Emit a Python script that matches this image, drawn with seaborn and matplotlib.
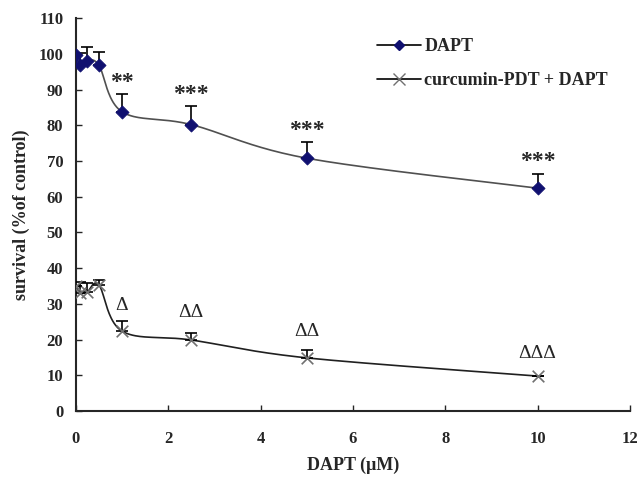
import numpy as np
import matplotlib
matplotlib.use("Agg")
import matplotlib.pyplot as plt
from matplotlib.lines import Line2D
import seaborn as sns

# data
dapt_conc = [0, 0.1, 0.25, 0.5, 1, 2.5, 5, 10]
dapt_surv = [99.6, 96.8, 98.0, 96.8, 83.8, 80.2, 70.8, 62.4]
dapt_err = [0.0, 3.5, 3.8, 3.8, 5.0, 5.2, 4.5, 4.0]
combo_surv = [35.0, 33.0, 33.4, 35.3, 22.4, 19.9, 14.9, 9.8]
combo_err = [0.0, 3.0, 2.4, 1.5, 2.8, 1.9, 2.2, 0.0]

dapt_marks = ["**", "***", "***", "***"]
dapt_mark_y = [92.0, 88.5, 78.5, 70.0]
combo_marks = ["Δ", "ΔΔ", "ΔΔ", "ΔΔΔ"]
combo_mark_y = [29.5, 27.5, 22.3, 16.0]
mark_x = [1, 2.5, 5, 10]

x_ticks = [0, 2, 4, 6, 8, 10, 12]
y_ticks = list(range(0, 111, 10))


def smooth(xs, ys, sx=46.3, sy=3.57, n=40):
    # Excel-like smoothed line (Catmull-Rom bezier) in screen-ish units
    P = np.column_stack([np.asarray(xs) * sx, np.asarray(ys) * sy])
    P = np.vstack([P[0], P, P[-1]])
    t = np.linspace(0, 1, n)[:, None]
    out = []
    for i in range(1, len(P) - 2):
        p0, p1, p2, p3 = P[i - 1], P[i], P[i + 1], P[i + 2]
        c1 = p1 + (p2 - p0) / 6
        c2 = p2 - (p3 - p1) / 6
        out.append((1 - t) ** 3 * p1 + 3 * (1 - t) ** 2 * t * c1
                   + 3 * (1 - t) * t ** 2 * c2 + t ** 3 * p2)
    out = np.vstack(out)
    return out[:, 0] / sx, out[:, 1] / sy


sns.set_style("ticks")
plt.rcParams['font.family'] = ['Liberation Serif', 'DejaVu Serif']
plt.rcParams['font.weight'] = 'bold'

fig = plt.figure(figsize=(6.37, 4.78), dpi=100)
ax = fig.add_axes([0.119, 0.140, 0.870, 0.822])

navy = "#101070"
line_c = "#505050"

sx, sy = smooth(dapt_conc, dapt_surv)
ax.plot(sx, sy, color=line_c, lw=1.2, zorder=2)
sx, sy = smooth(dapt_conc, combo_surv)
ax.plot(sx, sy, color="#202020", lw=1.2, zorder=2)

ax.errorbar(dapt_conc, dapt_surv, yerr=[np.zeros(len(dapt_err)), dapt_err],
            fmt="none", ecolor="black", elinewidth=1.2, capsize=4, capthick=1.2, zorder=3)
ax.errorbar(dapt_conc, combo_surv, yerr=[np.zeros(len(combo_err)), combo_err],
            fmt="none", ecolor="black", elinewidth=1.2, capsize=4, capthick=1.2, zorder=3)

sns.scatterplot(x=dapt_conc, y=dapt_surv, marker="D", s=45, color=navy,
                edgecolor=navy, ax=ax, zorder=4)
sns.scatterplot(x=dapt_conc, y=combo_surv, marker="x", s=70, color="#707070",
                linewidth=1.2, ax=ax, zorder=4)

for m, xv, yv in zip(dapt_marks, mark_x, dapt_mark_y):
    ax.text(xv, yv, m, ha="center", va="center", fontsize=17, fontweight="bold")
for m, xv, yv in zip(combo_marks, mark_x, combo_mark_y):
    ax.text(xv, yv, m, ha="center", va="center", fontsize=14, fontweight="normal")

ax.set_xlim(0, 12)
ax.set_ylim(0, 110)
ax.set_xticks(x_ticks)
ax.set_yticks(y_ticks)
ax.tick_params(direction="in", length=4, width=1, labelsize=12)
ax.tick_params(axis="x", pad=14)
ax.tick_params(axis="y", pad=9)
for lab in ax.get_xticklabels() + ax.get_yticklabels():
    lab.set_fontweight("bold")
ax.spines["top"].set_visible(False)
ax.spines["right"].set_visible(False)
ax.spines["left"].set_linewidth(1.5)
ax.spines["bottom"].set_linewidth(1.5)

ax.set_xlabel("DAPT (μM)", fontsize=13, fontweight="bold", labelpad=7)
ax.set_ylabel("survival (%of control)", fontsize=13, fontweight="bold", labelpad=6)

handles = [
    Line2D([], [], color="black", lw=1.2, marker="D", markersize=5,
           markerfacecolor=navy, markeredgecolor=navy),
    Line2D([], [], color="black", lw=1.2, marker="x", markersize=8,
           markeredgecolor="#707070"),
]
ax.legend(handles, ["DAPT", "curcumin-PDT + DAPT"], loc="upper left",
          bbox_to_anchor=(0.515, 0.99), frameon=False,
          handlelength=2.4, handletextpad=0.2, labelspacing=0.95,
          prop={"weight": "bold", "size": 13})

fig.savefig("out.png", dpi=100)
